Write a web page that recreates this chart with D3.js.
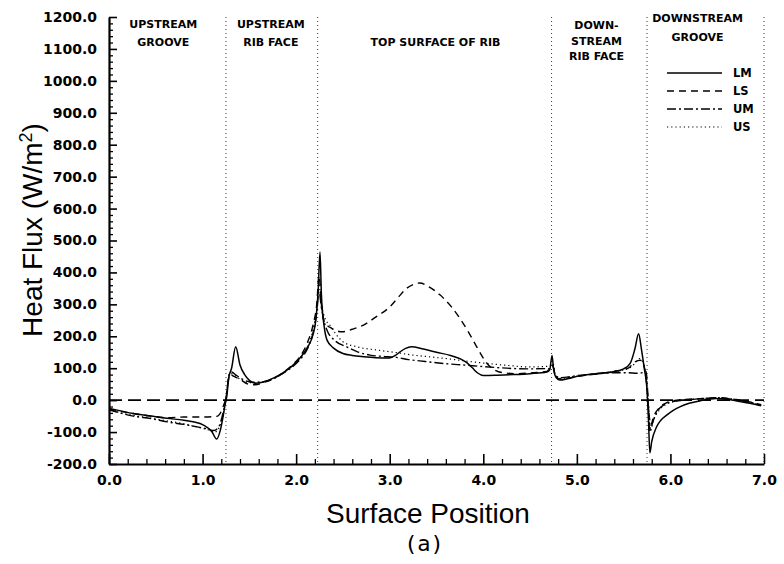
<!DOCTYPE html>
<html>
<head>
<meta charset="utf-8">
<script src="https://cdn.jsdelivr.net/npm/d3@7"></script>
<style>
  html, body { margin: 0; padding: 0; background: #fff; }
  svg { display: block; }
  .tick text { font-family: "DejaVu Sans", sans-serif; font-weight: bold; font-size: 14px; fill: #000; }
  .region { font-family: "DejaVu Sans", sans-serif; font-weight: bold; font-size: 11px; fill: #000; }
  .legend { font-family: "DejaVu Sans", sans-serif; font-weight: bold; font-size: 11.5px; fill: #000; }
</style>
</head>
<body>
<svg id="chart" width="784" height="564"></svg>
<script>
// Surface heat flux along the ribbed wall, four cases
const xTicks = [0, 1, 2, 3, 4, 5, 6, 7];
const yTicks = [-200, -100, 0, 100, 200, 300, 400, 500, 600, 700, 800, 900, 1000, 1100, 1200];

// region boundaries along the surface
const boundaries = [1.25, 2.23, 4.73, 5.75, 7.0];

// region captions: [centre position, first baseline, lines]
const regionLabels = [
  { x: 0.58, lines: ["UPSTREAM", "GROOVE"], y0: 28, dy: 18 },
  { x: 1.73, lines: ["UPSTREAM", "RIB FACE"], y0: 28, dy: 18 },
  { x: 3.49, lines: ["TOP SURFACE OF RIB"], y0: 46, dy: 18 },
  { x: 5.21, lines: ["DOWN-", "STREAM", "RIB FACE"], y0: 29, dy: 15.5 },
  { x: 6.29, lines: ["DOWNSTREAM", "GROOVE"], y0: 22, dy: 19 }
];

const seriesNames = ["LM", "LS", "UM", "US"];

const LM = [[0.0,-26],[0.1,-32],[0.26,-42],[0.45,-50],[0.62,-57],[0.8,-63],[0.9,-68],[1.01,-78],[1.1,-99],[1.15,-122],[1.19,-94],[1.22,-50],[1.24,-15],[1.26,15],[1.28,70],[1.31,100],[1.354,167],[1.4,110],[1.45,80],[1.5,62],[1.56,53],[1.65,57],[1.75,68],[1.85,84],[1.95,105],[2.05,135],[2.12,165],[2.18,205],[2.21,250],[2.235,340],[2.255,464],[2.27,330],[2.3,230],[2.33,188],[2.4,163],[2.5,146],[2.6,140],[2.72,136],[2.85,133],[3.0,132],[3.06,140],[3.11,151],[3.17,162],[3.23,167],[3.36,160],[3.5,150],[3.65,140],[3.75,130],[3.82,118],[3.88,102],[3.94,85],[4.0,77],[4.15,78],[4.32,80],[4.5,83],[4.68,88],[4.71,95],[4.735,140],[4.75,100],[4.78,70],[4.82,63],[4.9,67],[5.03,76],[5.2,83],[5.39,89],[5.5,98],[5.57,115],[5.62,160],[5.66,208],[5.69,160],[5.72,100],[5.75,30],[5.765,-60],[5.78,-165],[5.8,-130],[5.85,-85],[5.9,-62],[5.96,-47],[6.03,-32],[6.1,-21],[6.2,-10],[6.32,-2],[6.49,5],[6.6,3],[6.74,-4],[6.85,-10],[6.97,-18]];

const LS = [[0.0,-28],[0.26,-42],[0.45,-50],[0.62,-55],[0.8,-53],[0.97,-53],[1.1,-52],[1.16,-50],[1.2,-35],[1.23,-12],[1.25,5],[1.27,50],[1.29,82],[1.33,75],[1.4,65],[1.49,50],[1.56,48],[1.65,55],[1.75,66],[1.85,84],[1.95,108],[2.05,140],[2.12,180],[2.18,235],[2.22,300],[2.245,390],[2.27,300],[2.29,255],[2.33,235],[2.38,225],[2.49,214],[2.6,222],[2.72,235],[2.85,260],[3.0,292],[3.1,325],[3.18,350],[3.25,362],[3.32,367],[3.42,355],[3.54,329],[3.66,292],[3.75,256],[3.84,214],[3.93,167],[4.04,115],[4.12,95],[4.21,86],[4.35,83],[4.5,85],[4.68,90],[4.72,105],[4.74,110],[4.77,80],[4.82,66],[5.0,74],[5.2,82],[5.4,90],[5.55,100],[5.62,120],[5.68,125],[5.72,105],[5.75,40],[5.77,-40],[5.79,-78],[5.82,-52],[5.89,-21],[5.96,-8],[6.03,-2],[6.2,3],[6.4,6],[6.5,8],[6.7,2],[6.85,-6],[6.97,-14]];

const UM = [[0.0,-30],[0.26,-50],[0.45,-58],[0.62,-68],[0.8,-76],[0.93,-83],[1.05,-90],[1.12,-95],[1.17,-85],[1.21,-50],[1.24,-10],[1.26,30],[1.28,75],[1.31,88],[1.36,78],[1.45,62],[1.55,56],[1.65,58],[1.75,66],[1.85,82],[1.95,102],[2.05,130],[2.12,160],[2.18,210],[2.22,275],[2.245,340],[2.27,290],[2.3,245],[2.33,219],[2.42,185],[2.54,167],[2.65,152],[2.79,141],[2.93,137],[3.07,134],[3.2,127],[3.32,123],[3.5,117],[3.65,113],[3.79,110],[4.0,105],[4.15,102],[4.32,99],[4.5,98],[4.71,99],[4.74,108],[4.77,78],[4.82,70],[5.0,77],[5.2,82],[5.4,86],[5.55,86],[5.64,84],[5.7,86],[5.74,90],[5.76,10],[5.78,-100],[5.81,-70],[5.86,-35],[5.93,-15],[6.0,-6],[6.15,0],[6.3,4],[6.5,7],[6.7,1],[6.85,-7],[6.97,-16]];

const US = [[0.0,-30],[0.26,-48],[0.45,-56],[0.62,-65],[0.8,-74],[0.95,-85],[1.06,-93],[1.13,-100],[1.18,-85],[1.22,-45],[1.245,-5],[1.265,40],[1.29,85],[1.33,80],[1.42,62],[1.52,55],[1.6,55],[1.7,62],[1.85,83],[1.95,104],[2.05,134],[2.12,168],[2.18,220],[2.22,285],[2.245,360],[2.27,300],[2.31,255],[2.36,235],[2.43,205],[2.5,183],[2.65,167],[2.86,157],[3.07,149],[3.25,141],[3.45,135],[3.61,130],[3.8,123],[4.04,115],[4.25,109],[4.5,104],[4.68,106],[4.72,110],[4.745,115],[4.77,78],[4.82,68],[5.0,75],[5.2,82],[5.4,90],[5.55,99],[5.62,115],[5.67,130],[5.72,108],[5.75,40],[5.77,-30],[5.79,-90],[5.82,-62],[5.88,-32],[5.95,-14],[6.05,-4],[6.2,2],[6.4,6],[6.5,7],[6.7,1],[6.85,-7],[6.97,-16]];

// zero reference level
const zeroLine = [[0, 0], [7, 0]];

const seriesData = [LM, LS, UM, US];
const seriesDash = ["none", "7,5", "9,3,2,3", "1.2,3"];
const seriesWidth = [1.5, 1.4, 1.4, 1.2];

const svg = d3.select("#chart");
const x = d3.scaleLinear().domain([0, 7]).range([109, 764]);
const y = d3.scaleLinear().domain([-200, 1200]).range([464, 17]);

// region boundaries
svg.append("g").selectAll("line").data(boundaries).join("line")
  .attr("x1", d => x(d)).attr("x2", d => x(d))
  .attr("y1", y(1200)).attr("y2", y(-200))
  .attr("stroke", "#333").attr("stroke-width", 1)
  .attr("stroke-dasharray", "1,3");

// zero level
svg.append("path").datum(zeroLine)
  .attr("d", d3.line().x(d => x(d[0])).y(d => y(d[1])))
  .attr("fill", "none").attr("stroke", "#000").attr("stroke-width", 1.6)
  .attr("stroke-dasharray", "13,6");

// series curves
const line = d3.line().x(d => x(d[0])).y(d => y(d[1])).curve(d3.curveMonotoneX);
svg.append("g").selectAll("path").data(seriesData).join("path")
  .attr("d", line)
  .attr("fill", "none").attr("stroke", "#000")
  .attr("stroke-width", (d, i) => seriesWidth[i])
  .attr("stroke-dasharray", (d, i) => seriesDash[i]);

// y axis (ticks point into the plot)
const yMinor = d3.range(-200, 1201, 20).filter(v => v % 100 !== 0);
svg.append("g").attr("transform", `translate(${x(0)},0)`)
  .call(d3.axisLeft(y).tickValues(yMinor).tickSize(-4).tickFormat(""))
  .call(g => g.select(".domain").remove())
  .call(g => g.selectAll("line").attr("stroke-width", 1.3));
svg.append("g").attr("transform", `translate(${x(0)},0)`)
  .call(d3.axisLeft(y).tickValues(yTicks).tickSizeInner(-8).tickSizeOuter(0).tickPadding(12)
    .tickFormat(d => d.toFixed(1)))
  .call(g => g.select(".domain").attr("stroke-width", 2.2))
  .call(g => g.selectAll(".tick line").attr("stroke-width", 1.6));

// x axis
const xMinor = d3.range(0, 70, 2).map(v => v / 10).filter(v => Math.abs(v - Math.round(v)) > 1e-9);
svg.append("g").attr("transform", `translate(0,${y(-200)})`)
  .call(d3.axisBottom(x).tickValues(xMinor).tickSize(-5).tickFormat(""))
  .call(g => g.select(".domain").remove())
  .call(g => g.selectAll("line").attr("stroke-width", 1.3));
svg.append("g").attr("transform", `translate(0,${y(-200)})`)
  .call(d3.axisBottom(x).tickValues(xTicks).tickSizeInner(-10).tickSizeOuter(0).tickPadding(11)
    .tickFormat(d => d.toFixed(1)))
  .call(g => g.select(".domain").attr("stroke-width", 2.2))
  .call(g => g.selectAll(".tick line").attr("stroke-width", 1.6));

// region captions
regionLabels.forEach(r => {
  r.lines.forEach((t, i) => {
    svg.append("text").attr("class", "region")
      .attr("x", x(r.x)).attr("y", r.y0 + i * r.dy)
      .attr("text-anchor", "middle").text(t);
  });
});

// legend
const legendY = [73, 91, 109, 127];
seriesNames.forEach((name, i) => {
  svg.append("line")
    .attr("x1", 667).attr("x2", 722).attr("y1", legendY[i]).attr("y2", legendY[i])
    .attr("stroke", "#000").attr("stroke-width", seriesWidth[i])
    .attr("stroke-dasharray", seriesDash[i]);
  svg.append("text").attr("class", "legend")
    .attr("x", 733).attr("y", legendY[i] + 4).text(name);
});

// axis titles
const yTitle = svg.append("text")
  .attr("transform", "translate(42,230) rotate(-90)")
  .attr("text-anchor", "middle")
  .style("font-family", "Arial, 'Liberation Sans', sans-serif")
  .style("font-size", "28px");
yTitle.append("tspan").text("Heat Flux (W/m");
yTitle.append("tspan").attr("dy", -10).style("font-size", "18px").text("2");
yTitle.append("tspan").attr("dy", 10).text(")");

svg.append("text")
  .attr("x", 428).attr("y", 523).attr("text-anchor", "middle")
  .style("font-family", "Arial, 'Liberation Sans', sans-serif")
  .style("font-size", "28px")
  .text("Surface Position");

svg.append("text")
  .attr("x", 424).attr("y", 551).attr("text-anchor", "middle")
  .style("font-family", "'DejaVu Sans Mono', 'Liberation Mono', monospace")
  .style("font-size", "22px")
  .text("(a)");
</script>
</body>
</html>
